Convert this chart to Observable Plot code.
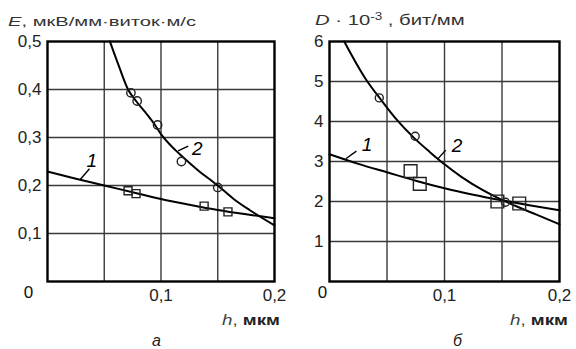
<!DOCTYPE html>
<html><head><meta charset="utf-8">
<script src="https://cdn.jsdelivr.net/npm/d3@7"></script>
<script src="https://cdn.jsdelivr.net/npm/@observablehq/plot@0.6"></script>
<style>
body{margin:0;background:#fff;}
#wrap{position:relative;width:576px;height:349px;overflow:hidden;font-family:"Liberation Sans",Arial,sans-serif;color:#222;background:#fff;}
.p{position:absolute;top:0;}
.lbl{position:absolute;white-space:nowrap;line-height:1;transform-origin:0 50%;}
</style></head><body>
<div id="wrap">
  <div class="p" id="pa" style="left:0"></div>
  <div class="p" id="pb" style="left:290px"></div>
  <div class="lbl" id="ta" style="left:8px;top:15px;font-size:13px;color:#333;transform:scaleX(1.55)"><i>E</i>, мкВ/мм·виток·м/с</div>
  <div class="lbl" id="tb" style="left:315px;top:12px;font-size:15px;color:#333;transform:scaleX(1.35)"><i>D</i> · 10<sup style="font-size:10px;vertical-align:5px">-3</sup> , бит/мм</div>
  <div class="lbl" style="left:222px;top:312px;font-size:15px;transform:scaleX(1.25)"><i style="color:#444">h</i><span style="color:#444">,</span>&nbsp;<b>мкм</b></div>
  <div class="lbl" style="left:510px;top:312px;font-size:15px;transform:scaleX(1.25)"><i style="color:#444">h</i><span style="color:#444">,</span>&nbsp;<b>мкм</b></div>
  <div class="lbl" style="left:152px;top:333px;font-size:16px;"><i>а</i></div>
  <div class="lbl" style="left:453px;top:333px;font-size:16px;"><i>б</i></div>
</div>
<script>
// ---- panel а : E vs h ----
const xTicks = [0.1, 0.2];
const gridX = [0.05, 0.1, 0.15];
const yTicksA = [0.1, 0.2, 0.3, 0.4, 0.5];
const gridYA = [0.1, 0.2, 0.3, 0.4];
const curve1A_h = [0, 0.025, 0.05, 0.075, 0.1, 0.125, 0.15, 0.175, 0.2];
const curve1A_E = [0.229, 0.214, 0.2, 0.186, 0.172, 0.16, 0.149, 0.14, 0.132];
const curve2A_h = [0.055, 0.063, 0.071, 0.078, 0.087, 0.095, 0.1, 0.11, 0.12, 0.132, 0.15, 0.164, 0.178, 0.2];
const curve2A_E = [0.5, 0.448, 0.4, 0.376, 0.35, 0.325, 0.307, 0.28, 0.258, 0.233, 0.2, 0.172, 0.149, 0.117];
const squaresA_h = [0.071, 0.078, 0.138, 0.159];
const squaresA_E = [0.189, 0.183, 0.157, 0.145];
const circlesA_h = [0.0735, 0.079, 0.097, 0.118, 0.15];
const circlesA_E = [0.393, 0.376, 0.326, 0.25, 0.196];
const labelsA_text = ["1", "2"];
const labelsA_h = [0.039, 0.132];
const labelsA_E = [0.252, 0.276];
const leadersA_h1 = [0.029, 0.115], leadersA_E1 = [0.213, 0.272];
const leadersA_h2 = [0.037, 0.124], leadersA_E2 = [0.235, 0.282];

// ---- panel б : D vs h ----
const yTicksB = [1, 2, 3, 4, 5, 6];
const gridYB = [1, 2, 3, 4, 5];
const curve1B_h = [0, 0.025, 0.05, 0.075, 0.1, 0.125, 0.15, 0.175, 0.2];
const curve1B_D = [3.18, 2.94, 2.73, 2.52, 2.33, 2.17, 2.03, 1.9, 1.78];
const curve2B_h = [0.0128, 0.0313, 0.0446, 0.0586, 0.0728, 0.0871, 0.1, 0.115, 0.133, 0.145, 0.161, 0.18, 0.2];
const curve2B_D = [6, 5.07, 4.55, 4.04, 3.61, 3.24, 2.93, 2.61, 2.29, 2.11, 1.9, 1.67, 1.43];
const squaresB_h = [0.0705, 0.0785, 0.146, 0.165];
const squaresB_D = [2.76, 2.44, 2.0, 1.95];
const circlesB_h = [0.0433, 0.0745, 0.153];
const circlesB_D = [4.59, 3.63, 1.98];
const labelsB_text = ["1", "2"];
const labelsB_h = [0.0327, 0.111];
const labelsB_D = [3.42, 3.39];
const leadersB_h1 = [0.0142, 0.094], leadersB_D1 = [3.07, 3.06];
const leadersB_h2 = [0.0234, 0.101], leadersB_D2 = [3.26, 3.28];

const zeroLabel = ["0"];

const fmt = d => d3.format(".1f")(d).replace(".", ",");
const fmtInt = d => String(d);
const zip = (a, b) => a.map((v, i) => ({h: v, v: b[i]}));

function panel({width, marginLeft, marginRight, yDomain, yTicks, gridY, yFmt, c1, c2, sq, ci, sqR, ciR, labels, leaders, zeroDx}) {
  return Plot.plot({
    width, height: 349,
    marginLeft, marginRight, marginTop: 41, marginBottom: 68,
    style: {fontFamily: "Liberation Sans, Arial, sans-serif", fontSize: "17px", color: "#222", background: "transparent", overflow: "visible"},
    x: {domain: [0, 0.2], ticks: xTicks, tickFormat: fmt, tickSize: 0, tickPadding: 7, label: null},
    y: {domain: yDomain, ticks: yTicks, tickFormat: yFmt, tickSize: 0, tickPadding: 6, label: null},
    marks: [
      Plot.ruleX(gridX, {stroke: "#3a3a3a", strokeWidth: 1.4}),
      Plot.ruleY(gridY, {stroke: "#3a3a3a", strokeWidth: 1.4}),
      Plot.frame({stroke: "#000", strokeWidth: 2.4}),
      Plot.text(zeroLabel, {x: () => 0, y: () => 0, text: d => d, dx: zeroDx, dy: 11, fill: "#111"}),
      Plot.line(c1, {x: "h", y: "v", curve: "monotone-x", stroke: "#000", strokeWidth: 2}),
      Plot.line(c2, {x: "h", y: "v", curve: "monotone-x", stroke: "#000", strokeWidth: 2}),
      Plot.dot(sq, {x: "h", y: "v", symbol: "square", r: sqR, stroke: "#222", strokeWidth: 1.4, fill: "none"}),
      Plot.dot(ci, {x: "h", y: "v", symbol: "circle", r: ciR, stroke: "#222", strokeWidth: 1.4, fill: "none"}),
      Plot.link(leaders, {x1: "h1", y1: "v1", x2: "h2", y2: "v2", stroke: "#000", strokeWidth: 1.4}),
      Plot.text(labels, {x: "h", y: "v", text: "t", fontStyle: "italic", fontSize: 19, fill: "#000"})
    ]
  });
}

document.getElementById("pa").append(panel({
  width: 290, marginLeft: 47, marginRight: 16,
  yDomain: [0, 0.5], yTicks: yTicksA, gridY: gridYA, yFmt: fmt,
  c1: zip(curve1A_h, curve1A_E), c2: zip(curve2A_h, curve2A_E),
  sq: zip(squaresA_h, squaresA_E), ci: zip(circlesA_h, circlesA_E), sqR: 4.5, ciR: 4.2,
  labels: labelsA_text.map((t, i) => ({t, h: labelsA_h[i], v: labelsA_E[i]})),
  leaders: leadersA_h1.map((h1, i) => ({h1, v1: leadersA_E1[i], h2: leadersA_h2[i], v2: leadersA_E2[i]})),
  zeroDx: -19
}));

document.getElementById("pb").append(panel({
  width: 286, marginLeft: 39, marginRight: 17,
  yDomain: [0, 6], yTicks: yTicksB, gridY: gridYB, yFmt: fmtInt,
  c1: zip(curve1B_h, curve1B_D), c2: zip(curve2B_h, curve2B_D),
  sq: zip(squaresB_h, squaresB_D), ci: zip(circlesB_h, circlesB_D), sqR: 7.2, ciR: 4,
  labels: labelsB_text.map((t, i) => ({t, h: labelsB_h[i], v: labelsB_D[i]})),
  leaders: leadersB_h1.map((h1, i) => ({h1, v1: leadersB_D1[i], h2: leadersB_h2[i], v2: leadersB_D2[i]})),
  zeroDx: -7
}));
</script>
</body></html>
